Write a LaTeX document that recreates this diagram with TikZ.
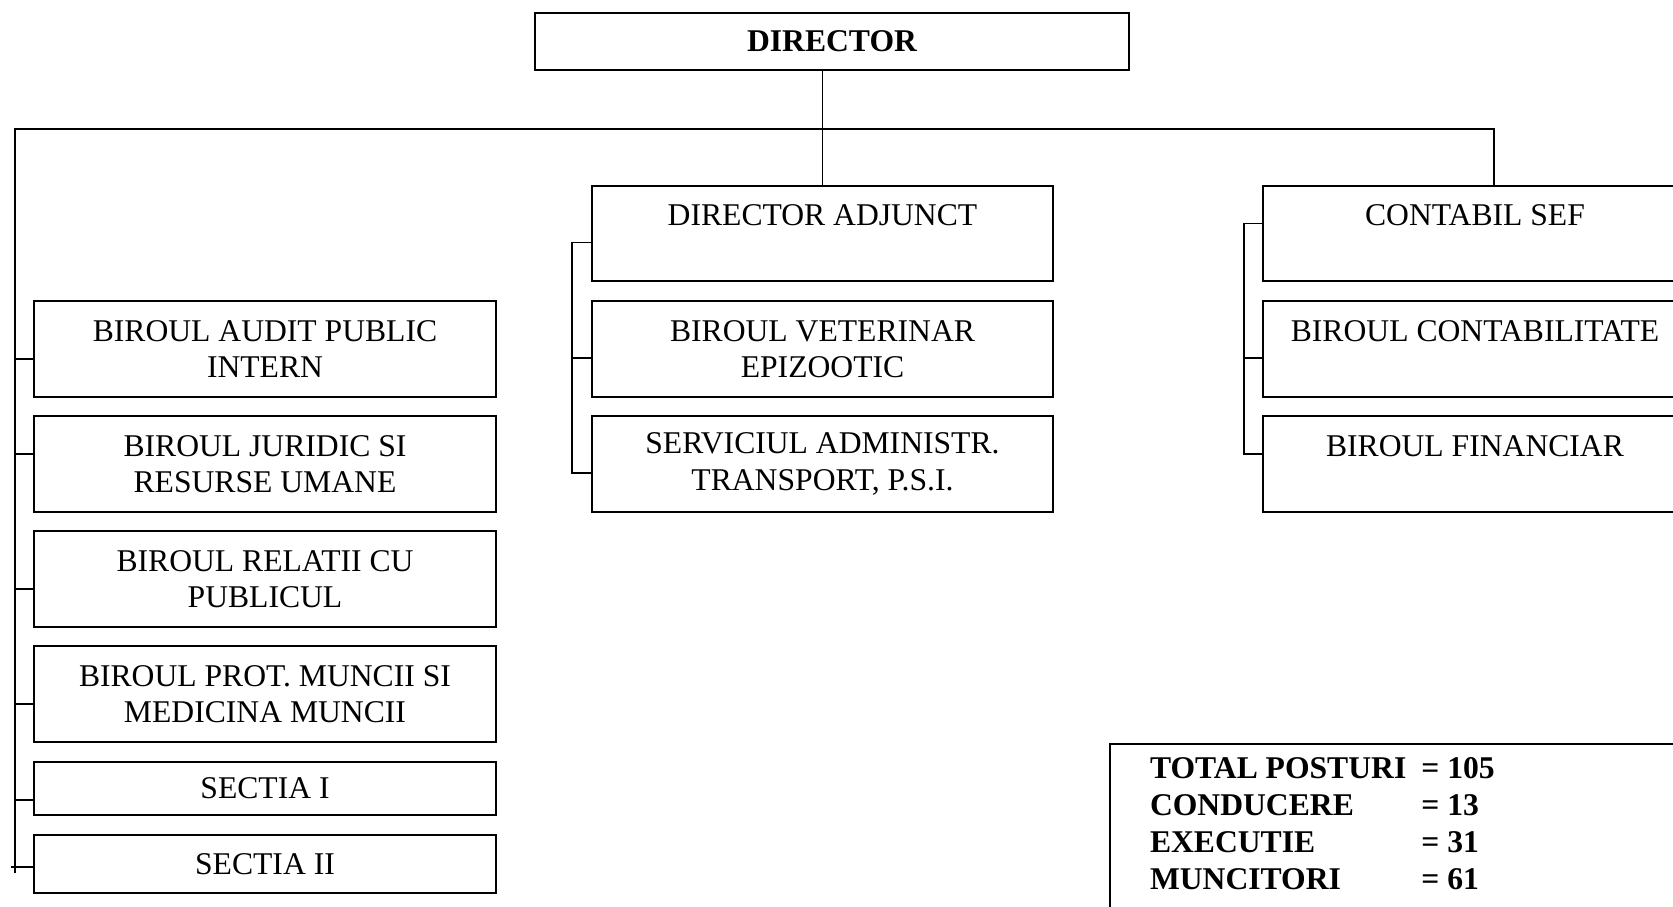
\documentclass[tikz,border=0pt]{standalone}
\usepackage{fontspec}
\setmainfont{Liberation Serif}
\usetikzlibrary{positioning}

\begin{document}
\begin{tikzpicture}[
  font=\fontsize{18}{20.7}\selectfont, line width=1pt,
  unit/.style={draw, minimum width=9.24cm, minimum height=1.92cm, align=center, inner sep=0pt, outer sep=0pt},
  tot/.style={font=\fontsize{18}{21}\selectfont\bfseries, anchor=north west, inner xsep=0.80cm, inner ysep=0.18cm, outer sep=0pt}]
\useasboundingbox (0,0) rectangle (33.46,-18.14);
% top
\node[unit, minimum width=11.88cm, minimum height=1.14cm, font=\fontsize{18}{20.7}\selectfont\bfseries] (dir) at (16.64,-0.83) {DIRECTOR};
% middle column
\node[unit, minimum width=9.22cm, minimum height=1.90cm] (adj) at (16.45,-4.67) {DIRECTOR ADJUNCT\\\mbox{}};
\node[unit, minimum width=9.22cm, below=0.40cm of adj] (vet) {BIROUL VETERINAR\\EPIZOOTIC};
\node[unit, minimum width=9.22cm, below=0.38cm of vet] (adm) {SERVICIUL ADMINISTR.\\TRANSPORT, P.S.I.};
% right column
\node[unit, minimum width=8.48cm, minimum height=1.90cm] (sef) at (29.50,-4.67) {CONTABIL SEF\\\mbox{}};
\node[unit, minimum width=8.48cm, below=0.40cm of sef] (cont) {BIROUL CONTABILITATE\\\mbox{}};
\node[unit, minimum width=8.48cm, below=0.38cm of cont] (fin) {BIROUL FINANCIAR\\\mbox{}};
% left column
\node[unit] (audit) at (5.30,-6.98) {BIROUL AUDIT PUBLIC\\INTERN};
\node[unit, below=0.38cm of audit] (jur) {BIROUL JURIDIC SI\\RESURSE UMANE};
\node[unit, below=0.38cm of jur] (rel) {BIROUL RELATII CU\\PUBLICUL};
\node[unit, below=0.38cm of rel] (prot) {BIROUL PROT. MUNCII SI\\MEDICINA MUNCII};
\node[unit, minimum height=1.06cm, below=0.40cm of prot] (secI) {SECTIA I};
\node[unit, minimum height=1.16cm, below=0.40cm of secI] (secII) {SECTIA II};
% totals
\node[tot] (sum) at (22.20,-14.88) {\begin{tabular}{@{}l@{\hspace{0.3cm}}l@{}}
  TOTAL POSTURI & = 105\\ CONDUCERE & = 13\\ EXECUTIE & = 31\\ MUNCITORI & = 61
\end{tabular}};
\draw (sum.north west |- 0,-18.6) -- (sum.north west) -- (sum.north west -| 34,0);

% lines
\coordinate (lbus) at (0.30,-2.58);
\coordinate (rbus) at (29.88,-2.58);
\coordinate (lend) at (0.30,-17.46);
\coordinate (mbr) at (11.44,0);
\coordinate (rbr) at (24.88,0);
\draw (adj.north) -- (adj.north |- dir.south);
\draw (rbus |- sef.north) -- (rbus) -- (lbus) -- (lend);
\foreach \n/\dy in {audit/-2mm, jur/2mm, rel/-2mm, prot/-2mm, secI/-2.3mm}
  \draw ([yshift=\dy]\n.west) -- ([yshift=\dy]lbus |- \n.west);
\draw ([yshift=-0.6mm]secII.west) -- ([yshift=-0.6mm, xshift=-0.8mm]lbus |- secII.west);
\draw ([yshift=-1.8mm]adj.west) -| ([yshift=-1.8mm]mbr |- adm.west) -- ([yshift=-1.8mm]adm.west);
\draw ([yshift=-1.8mm]vet.west) -- ([yshift=-1.8mm]mbr |- vet.west);
\draw ([yshift=2mm]sef.west) -| ([yshift=2mm]rbr |- fin.west) -- ([yshift=2mm]fin.west);
\draw ([yshift=-1.8mm]cont.west) -- ([yshift=-1.8mm]rbr |- cont.west);
\end{tikzpicture}
\end{document}
